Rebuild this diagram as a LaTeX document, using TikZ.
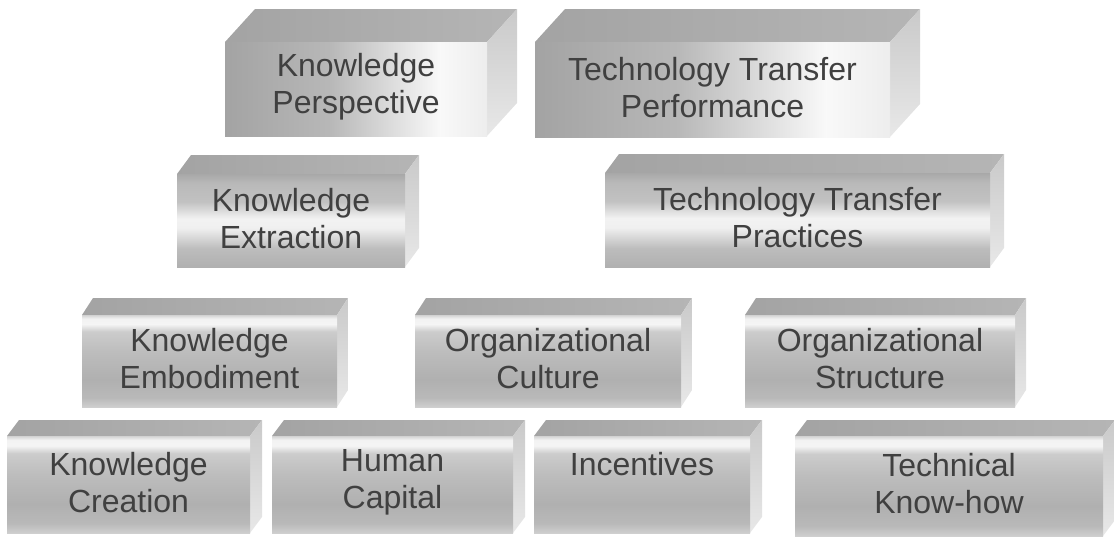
\documentclass[tikz,border=0pt]{standalone}
\usepackage{fontspec}
\setmainfont{Liberation Sans}
\usepackage{tikz}

% shadings of the front faces
\pgfdeclarehorizontalshading{leftdark}{100bp}{color(0bp)=(gray!72); color(25bp)=(gray!72); color(45bp)=(gray!56); color(66bp)=(gray!5); color(75bp)=(gray!14); color(100bp)=(gray!14)}
\pgfdeclareverticalshading{barmid}{100bp}{color(0bp)=(gray!62); color(25bp)=(gray!62); color(35bp)=(gray!52); color(46bp)=(gray!12); color(51bp)=(gray!10); color(60bp)=(gray!48); color(70bp)=(gray!55); color(75bp)=(gray!68); color(100bp)=(gray!68)}
\pgfdeclareverticalshading{barlow}{100bp}{color(0bp)=(gray!38); color(25bp)=(gray!38); color(30bp)=(gray!55); color(40bp)=(gray!62); color(55bp)=(gray!52); color(66bp)=(gray!40); color(70bp)=(gray!8); color(73bp)=(gray!10); color(75bp)=(gray!35); color(100bp)=(gray!35)}

% #1 name, #2 #3 front top left, #4 #5 front bottom right, #6 #7 depth, #8 shading, #9 text
\newcommand{\block}[9]{%
  \shade[topface] (#2,#3) -- ++(#6,#7) -- ({#4+#6},{#3+#7}) -- (#4,#3) -- cycle;
  \shade[sideface] (#4,#3) -- ({#4+#6},{#3+#7}) -- ({#4+#6},{#5+#7}) -- (#4,#5) -- cycle;
  \shade[shading=#8] (#2,#3) rectangle (#4,#5);
  \node[blocktext] (#1) at ({(#2+#4)/2},{(#3+#5)/2-2}) {#9};
}

\begin{document}
\begin{tikzpicture}[x=1pt, y=-1pt,
    topface/.style={left color=gray!72, right color=gray!58},
    sideface/.style={top color=gray!42, bottom color=gray!18},
    blocktext/.style={align=center, text=black!75, font=\fontsize{32}{37}\selectfont}]
        \useasboundingbox (0,0) rectangle (1114,544);

        % row 1
        \block{perspective}{225}{42}{487}{136}{30}{-33}{leftdark}{Knowledge\\Perspective}
        \block{performance}{535}{42}{890}{137}{30}{-33}{leftdark}{Technology Transfer\\Performance}

        % row 2
        \block{extraction}{177}{174}{405}{267}{14}{-19}{barmid}{Knowledge\\Extraction}
        \block{practices}{605}{173}{990}{267}{14}{-19}{barmid}{Technology Transfer\\Practices}

        % row 3
        \block{embodiment}{82}{315}{337}{407}{11}{-17}{barlow}{Knowledge\\Embodiment}
        \block{culture}{415}{315}{681}{407}{11}{-17}{barlow}{Organizational\\Culture}
        \block{structure}{745}{315}{1015}{407}{11}{-17}{barlow}{Organizational\\Structure}

        % row 4
        \block{creation}{7}{436}{250}{533}{12}{-16}{barlow}{Knowledge\\Creation}
        \block{capital}{272}{436}{513}{533}{12}{-16}{barlow}{Human\\Capital}
        \block{incentives}{534}{436}{750}{533}{12}{-16}{barlow}{Incentives\\~}
        \block{knowhow}{795}{436}{1103}{536}{12}{-16}{barlow}{Technical\\Know-how}
    \end{tikzpicture}
\end{document}
